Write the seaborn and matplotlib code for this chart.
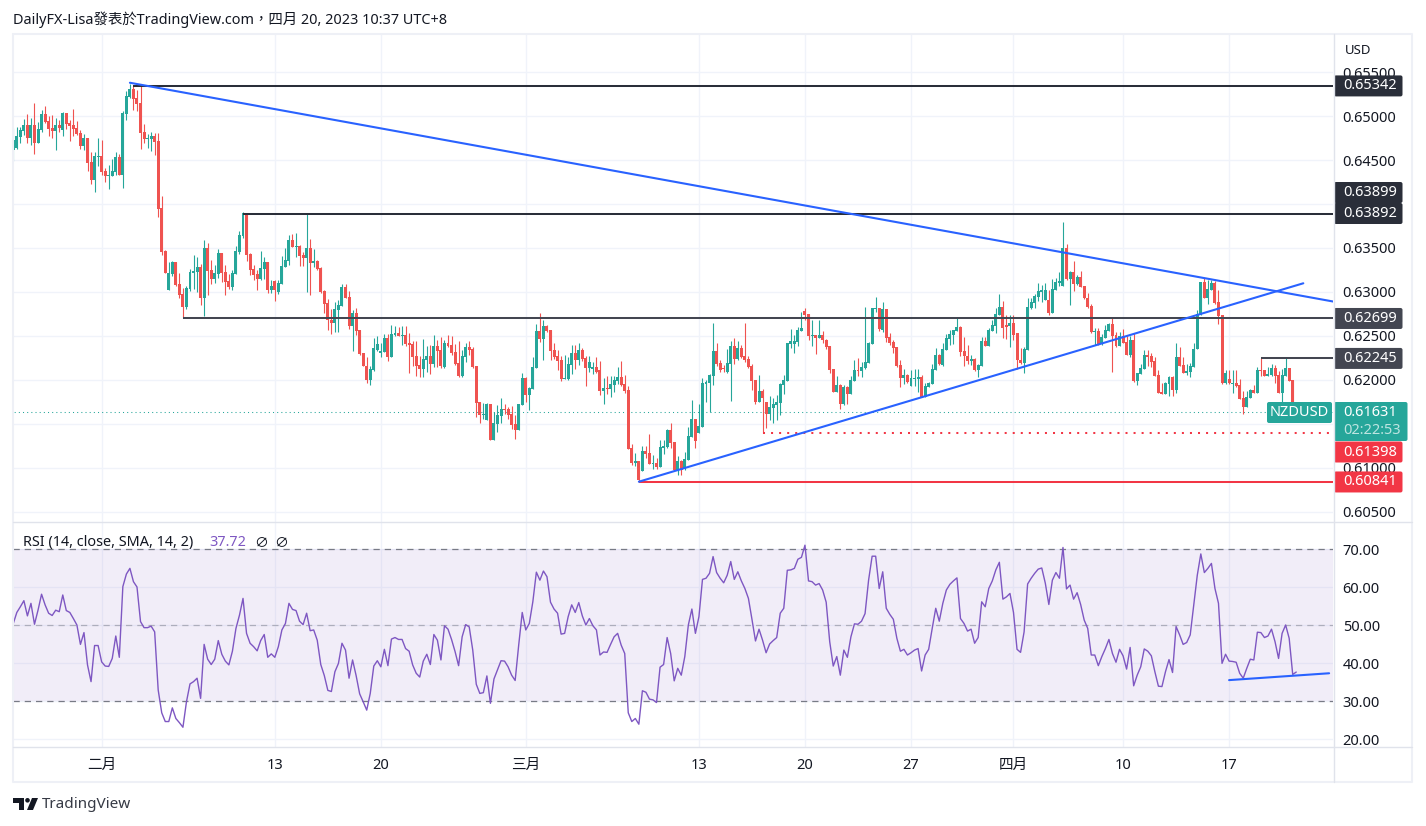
import numpy as np
import pandas as pd
import matplotlib.pyplot as plt
from matplotlib.patches import FancyBboxPatch, Polygon, Circle
import seaborn as sns

# NZDUSD 4h candles, prices in 1/10000
candle_dir = ("GGGGRGRGGR" "RRGRGRRRRR" "GRRGGRRGGG" "RGGGRRRRGG" "RRRRGGRRRG"
              "GGGRGRRGGR" "RRGGGGRRRR" "GGRGRGGGGR" "GRRGRGRRRR" "RGGGRRGRRR"
              "RGGGGGRGGR" "GRRRRRGGRG" "RRGRRRRGGR" "RRRGGRGGGR" "RRRGGRGGGR"
              "GRRRRRGGGR" "GRRGGRRGRG" "GGRRRRGRGR" "RGRGGGRRGR" "GGGRGGGGGR"
              "RRGGRGRRRR" "RGRRGGGGGG" "GGGGRRGRGR" "RRRGRGRGGR" "GGGGGRGRRR"
              "RRGRGGGRGG" "GGRGGGGGRR" "RGRGGRGGGG" "RRGRRRGGGG" "GGGRGGGGRG"
              "RGRRRRGRGG" "GRRGRRGRGG" "GRRRRRGGRG" "RRGGGGGRGG" "RRRGRGRRRG"
              "GRGRRGGRRG" "GRRG")

body_top = [
    6472.7, 6477.2, 6484.0, 6489.7, 6489.7, 6489.7, 6489.7, 6485.2, 6502.2, 6502.2,
    6494.3, 6486.3, 6489.7, 6489.7, 6503.4, 6503.4, 6492.0, 6489.7, 6486.3, 6480.6,
    6475.0, 6475.0, 6447.7, 6454.5, 6454.5, 6454.5, 6437.5, 6432.9, 6437.5, 6453.4,
    6453.4, 6503.4, 6522.7, 6530.6, 6530.6, 6520.4, 6514.7, 6481.8, 6475.0, 6477.2,
    6477.2, 6471.6, 6395.4, 6346.5, 6321.5, 6334.0, 6334.0, 6309.0, 6297.7, 6304.5,
    6322.7, 6323.8, 6328.4, 6328.4, 6350.0, 6350.0, 6325.0, 6321.5, 6344.3, 6344.3,
    6322.7, 6312.5, 6321.5, 6346.5, 6364.7, 6389.7, 6389.7, 6343.1, 6326.1, 6320.4,
    6327.2, 6334.0, 6334.0, 6306.8, 6312.5, 6310.2, 6329.5, 6336.3, 6359.0, 6359.0,
    6352.2, 6352.2, 6342.0, 6350.0, 6350.0, 6335.2, 6335.2, 6327.2, 6301.1, 6287.5,
    6268.6, 6281.1, 6285.6, 6306.1, 6306.1, 6294.3, 6276.5, 6276.5, 6257.2, 6231.1,
    6216.3, 6212.9, 6236.7, 6241.3, 6233.3, 6248.1, 6248.1, 6252.6, 6253.8, 6253.8,
    6251.5, 6251.5, 6242.4, 6241.3, 6227.7, 6217.4, 6224.2, 6227.7, 6227.7, 6239.0,
    6239.0, 6234.5, 6242.4, 6242.4, 6240.1, 6232.2, 6219.7, 6227.7, 6237.9, 6237.9,
    6235.6, 6216.3, 6175.4, 6161.7, 6173.1, 6173.1, 6151.5, 6160.6, 6167.4, 6167.4,
    6167.4, 6161.7, 6150.4, 6173.1, 6202.6, 6202.6, 6191.3, 6215.2, 6256.0, 6256.0,
    6261.7, 6261.7, 6257.2, 6234.5, 6227.7, 6223.1, 6202.6, 6218.6, 6231.1, 6231.1,
    6234.5, 6234.5, 6225.4, 6220.8, 6215.2, 6215.2, 6211.7, 6191.3, 6191.3, 6195.8,
    6200.4, 6203.8, 6203.8, 6195.8, 6189.0, 6123.1, 6108.3, 6108.3, 6119.7, 6119.7,
    6117.4, 6106.1, 6106.1, 6124.2, 6125.4, 6143.5, 6143.2, 6129.5, 6107.9, 6107.9,
    6110.2, 6136.3, 6155.7, 6155.7, 6147.7, 6196.6, 6197.7, 6205.7, 6232.9, 6232.9,
    6219.3, 6213.6, 6219.3, 6238.6, 6238.6, 6236.4, 6236.4, 6227.3, 6223.9, 6215.9,
    6200.0, 6187.5, 6187.5, 6175.0, 6169.3, 6172.7, 6175.0, 6195.5, 6200.0, 6242.0,
    6244.3, 6244.3, 6256.8, 6259.1, 6278.4, 6275.0, 6251.1, 6251.1, 6251.1, 6251.1,
    6245.5, 6238.6, 6212.5, 6194.3, 6194.3, 6192.0, 6192.0, 6200.0, 6211.4, 6211.4,
    6214.8, 6220.5, 6242.0, 6281.8, 6281.8, 6281.8, 6280.7, 6280.7, 6248.9, 6243.2,
    6237.5, 6217.0, 6205.7, 6205.7, 6202.3, 6202.3, 6203.4, 6203.4, 6193.2, 6196.6,
    6212.5, 6228.4, 6228.4, 6235.2, 6247.7, 6252.3, 6256.8, 6260.2, 6260.2, 6232.9,
    6227.3, 6223.9, 6223.9, 6217.0, 6244.3, 6244.3, 6256.8, 6262.5, 6275.0, 6283.0,
    6283.0, 6262.5, 6264.8, 6264.8, 6253.4, 6222.7, 6235.2, 6283.0, 6288.6, 6295.4,
    6301.1, 6302.3, 6302.3, 6290.9, 6303.4, 6311.4, 6312.5, 6350.0, 6350.0, 6322.7,
    6322.7, 6317.0, 6317.0, 6306.8, 6293.2, 6284.1, 6255.7, 6255.7, 6248.9, 6256.8,
    6263.6, 6263.6, 6251.1, 6250.0, 6250.0, 6243.2, 6245.5, 6245.5, 6207.9, 6213.6,
    6228.4, 6228.4, 6227.3, 6221.6, 6205.7, 6186.4, 6196.6, 6203.4, 6203.4, 6226.1,
    6226.1, 6217.0, 6210.2, 6215.9, 6235.2, 6275.0, 6311.4, 6311.4, 6303.4, 6310.2,
    6310.2, 6288.6, 6273.9, 6207.9, 6201.1, 6196.6, 6196.6, 6194.3, 6179.5, 6180.7,
    6188.6, 6188.6, 6211.4, 6211.4, 6211.4, 6206.8, 6213.6, 6213.6, 6205.7, 6205.7,
    6213.6, 6213.6, 6200.0, 6163.1,
]

body_bottom = [
    6461.3, 6463.6, 6476.1, 6482.9, 6475.0, 6475.0, 6469.3, 6469.3, 6484.0, 6493.1,
    6485.2, 6482.9, 6482.9, 6486.3, 6484.0, 6490.9, 6488.6, 6485.2, 6479.5, 6465.9,
    6465.9, 6446.5, 6427.2, 6427.2, 6453.7, 6436.3, 6431.8, 6432.2, 6431.8, 6436.3,
    6432.9, 6432.9, 6502.2, 6521.6, 6519.3, 6513.6, 6480.6, 6473.8, 6474.2, 6473.8,
    6470.4, 6394.3, 6345.4, 6321.5, 6302.2, 6320.4, 6307.9, 6296.5, 6282.9, 6282.9,
    6303.4, 6321.5, 6322.7, 6293.1, 6293.1, 6323.8, 6314.7, 6314.7, 6320.4, 6321.5,
    6311.3, 6305.6, 6305.6, 6320.4, 6345.4, 6363.6, 6342.0, 6325.0, 6319.3, 6314.7,
    6314.7, 6326.1, 6302.2, 6302.2, 6302.2, 6300.0, 6309.0, 6328.4, 6335.2, 6351.1,
    6351.1, 6340.9, 6338.6, 6338.6, 6332.9, 6332.9, 6326.1, 6300.0, 6286.3, 6268.1,
    6265.1, 6265.1, 6279.9, 6284.5, 6293.6, 6261.7, 6261.7, 6256.0, 6229.9, 6216.3,
    6200.4, 6200.4, 6211.7, 6234.5, 6231.1, 6232.2, 6226.5, 6226.5, 6251.5, 6250.4,
    6250.4, 6241.3, 6240.1, 6226.5, 6216.3, 6212.9, 6212.9, 6223.1, 6218.6, 6218.6,
    6233.3, 6216.3, 6215.2, 6239.0, 6231.1, 6218.6, 6204.9, 6204.9, 6226.5, 6234.5,
    6215.2, 6174.2, 6160.6, 6160.6, 6154.9, 6132.2, 6132.2, 6150.4, 6159.5, 6166.3,
    6160.6, 6149.2, 6143.5, 6143.5, 6171.9, 6183.3, 6183.3, 6190.2, 6214.0, 6247.0,
    6247.0, 6256.0, 6233.3, 6226.5, 6222.0, 6201.5, 6201.5, 6201.5, 6217.4, 6223.1,
    6223.1, 6224.2, 6214.0, 6214.0, 6212.9, 6209.5, 6187.9, 6187.9, 6190.2, 6190.2,
    6194.7, 6199.2, 6194.7, 6187.9, 6122.0, 6106.1, 6106.1, 6086.7, 6096.9, 6116.3,
    6104.9, 6104.9, 6101.5, 6101.5, 6123.1, 6124.2, 6128.4, 6097.7, 6097.7, 6097.7,
    6098.9, 6109.1, 6135.2, 6130.7, 6139.8, 6146.6, 6195.5, 6196.6, 6204.5, 6218.2,
    6211.4, 6212.1, 6209.1, 6218.2, 6223.9, 6223.9, 6226.1, 6222.7, 6214.8, 6198.9,
    6175.0, 6175.0, 6179.5, 6161.4, 6161.4, 6168.2, 6171.6, 6173.9, 6194.3, 6198.9,
    6240.9, 6240.9, 6243.2, 6255.7, 6273.9, 6250.0, 6250.0, 6247.7, 6247.7, 6245.5,
    6237.5, 6211.4, 6186.4, 6186.4, 6172.7, 6172.7, 6184.1, 6184.1, 6198.9, 6210.2,
    6210.2, 6213.6, 6219.3, 6240.9, 6280.7, 6258.0, 6256.8, 6247.7, 6242.0, 6236.4,
    6215.9, 6202.3, 6202.3, 6197.7, 6193.2, 6201.1, 6201.1, 6180.7, 6180.7, 6192.0,
    6195.5, 6211.4, 6218.2, 6217.0, 6234.1, 6246.6, 6251.1, 6255.7, 6231.8, 6227.3,
    6221.6, 6221.6, 6211.4, 6211.4, 6215.9, 6238.6, 6238.6, 6255.7, 6261.4, 6273.9,
    6259.1, 6260.2, 6261.4, 6251.1, 6222.7, 6219.3, 6219.3, 6234.1, 6281.8, 6287.5,
    6294.3, 6300.0, 6290.9, 6276.1, 6276.1, 6302.3, 6310.2, 6306.8, 6314.8, 6314.8,
    6309.1, 6309.1, 6305.7, 6293.2, 6283.0, 6254.5, 6254.5, 6240.9, 6240.9, 6247.7,
    6255.7, 6250.0, 6238.6, 6238.6, 6242.0, 6228.4, 6228.4, 6198.9, 6198.9, 6206.8,
    6212.5, 6226.1, 6220.5, 6204.5, 6185.2, 6184.1, 6184.1, 6195.5, 6188.6, 6188.6,
    6215.9, 6207.9, 6207.9, 6209.1, 6214.8, 6235.2, 6273.9, 6293.2, 6293.2, 6302.3,
    6287.5, 6272.7, 6196.6, 6196.6, 6196.6, 6195.5, 6193.2, 6178.4, 6169.3, 6169.3,
    6179.5, 6185.2, 6185.2, 6210.2, 6204.5, 6204.5, 6205.7, 6204.5, 6185.2, 6185.2,
    6204.5, 6198.9, 6161.5, 6161.5,
]

wick_high = [
    6485.9, 6487.8, 6487.8, 6496.6, 6502.2, 6497.7, 6514.7, 6493.1, 6506.8, 6511.3,
    6500.0, 6501.1, 6497.7, 6495.4, 6504.5, 6503.4, 6495.4, 6507.9, 6494.3, 6484.0,
    6479.5, 6475.0, 6459.1, 6459.1, 6475.0, 6472.7, 6440.9, 6444.3, 6451.1, 6459.1,
    6456.8, 6505.6, 6528.4, 6536.3, 6534.1, 6529.5, 6534.1, 6490.9, 6479.5, 6481.8,
    6480.6, 6480.6, 6409.1, 6347.7, 6334.0, 6335.2, 6334.0, 6321.5, 6304.5, 6306.8,
    6326.1, 6342.0, 6339.7, 6331.8, 6359.0, 6355.6, 6336.3, 6330.6, 6348.8, 6344.3,
    6330.6, 6320.4, 6325.0, 6352.2, 6369.3, 6390.9, 6389.7, 6344.3, 6330.6, 6325.0,
    6346.5, 6339.7, 6334.0, 6313.6, 6313.6, 6313.6, 6340.9, 6350.0, 6364.7, 6365.9,
    6367.0, 6353.4, 6345.4, 6389.7, 6360.2, 6348.8, 6336.3, 6328.4, 6302.2, 6292.0,
    6281.1, 6289.0, 6291.3, 6309.5, 6309.0, 6300.8, 6279.9, 6282.2, 6257.2, 6231.1,
    6226.5, 6216.3, 6248.1, 6250.4, 6242.4, 6252.6, 6252.6, 6262.9, 6261.7, 6260.6,
    6261.7, 6261.7, 6253.8, 6244.7, 6244.7, 6227.7, 6247.0, 6239.0, 6240.1, 6251.5,
    6245.8, 6249.2, 6245.8, 6251.5, 6250.4, 6241.3, 6244.7, 6234.5, 6242.4, 6244.7,
    6237.9, 6216.3, 6175.4, 6174.2, 6174.2, 6173.1, 6164.0, 6172.0, 6179.9, 6173.1,
    6169.7, 6170.8, 6160.6, 6173.1, 6208.3, 6203.8, 6192.4, 6226.5, 6264.0, 6276.5,
    6268.6, 6262.9, 6257.2, 6242.4, 6234.5, 6227.7, 6228.8, 6226.5, 6240.1, 6240.1,
    6242.4, 6236.7, 6227.7, 6227.7, 6220.8, 6226.5, 6222.0, 6202.6, 6204.9, 6204.9,
    6204.9, 6215.2, 6222.0, 6206.0, 6193.5, 6127.6, 6117.4, 6108.3, 6125.4, 6125.4,
    6139.0, 6115.1, 6111.7, 6132.2, 6132.2, 6144.7, 6151.1, 6129.5, 6113.6, 6109.1,
    6118.2, 6146.6, 6177.3, 6155.7, 6172.7, 6202.3, 6200.0, 6206.8, 6264.8, 6242.0,
    6222.7, 6217.0, 6235.2, 6244.3, 6247.7, 6244.3, 6239.8, 6264.8, 6227.3, 6218.2,
    6200.0, 6205.7, 6189.8, 6175.0, 6181.8, 6179.5, 6182.9, 6196.6, 6205.7, 6242.0,
    6258.0, 6251.1, 6260.2, 6277.3, 6281.8, 6275.0, 6268.2, 6251.1, 6268.2, 6255.7,
    6246.6, 6238.6, 6212.5, 6204.5, 6195.5, 6194.3, 6193.2, 6204.5, 6222.7, 6225.0,
    6220.5, 6283.0, 6243.2, 6281.8, 6294.3, 6281.8, 6288.6, 6280.7, 6253.4, 6245.5,
    6237.5, 6222.7, 6212.5, 6206.8, 6211.4, 6212.5, 6212.5, 6205.7, 6196.6, 6197.7,
    6218.2, 6236.4, 6229.5, 6242.0, 6252.3, 6256.8, 6256.8, 6271.6, 6261.4, 6248.9,
    6239.8, 6228.4, 6225.0, 6218.2, 6248.9, 6248.9, 6259.1, 6268.2, 6281.8, 6297.7,
    6289.8, 6273.9, 6273.9, 6273.9, 6253.4, 6236.4, 6237.5, 6293.2, 6293.2, 6297.7,
    6310.2, 6307.9, 6310.2, 6302.3, 6314.8, 6315.9, 6322.7, 6379.5, 6354.5, 6323.9,
    6335.2, 6319.3, 6323.9, 6306.8, 6298.9, 6286.4, 6259.1, 6259.1, 6252.3, 6262.5,
    6264.8, 6270.5, 6254.5, 6254.5, 6257.9, 6250.0, 6250.0, 6253.4, 6207.9, 6218.2,
    6234.1, 6234.1, 6230.7, 6226.1, 6211.4, 6196.6, 6197.7, 6204.5, 6204.5, 6242.0,
    6237.5, 6226.1, 6218.2, 6219.3, 6242.0, 6279.5, 6311.4, 6315.9, 6313.6, 6313.6,
    6312.5, 6302.3, 6273.9, 6211.4, 6211.4, 6211.4, 6211.4, 6201.1, 6187.5, 6187.5,
    6189.8, 6194.3, 6214.8, 6225.0, 6211.4, 6214.8, 6218.2, 6217.0, 6210.2, 6212.5,
    6226.1, 6213.6, 6200.0, 6165.0,
]

wick_low = [
    6449.2, 6462.1, 6469.7, 6478.4, 6468.9, 6467.0, 6456.8, 6469.3, 6481.8, 6491.6,
    6477.2, 6475.0, 6461.3, 6481.8, 6477.2, 6485.2, 6471.6, 6477.2, 6478.4, 6462.5,
    6461.3, 6437.5, 6422.7, 6413.6, 6443.1, 6432.9, 6425.0, 6417.0, 6431.8, 6432.9,
    6432.9, 6418.1, 6495.4, 6520.4, 6506.8, 6505.6, 6462.5, 6469.3, 6463.6, 6460.2,
    6455.6, 6385.2, 6342.0, 6321.5, 6302.2, 6318.1, 6306.8, 6293.1, 6270.4, 6280.6,
    6301.1, 6303.4, 6300.0, 6285.2, 6272.7, 6296.5, 6309.0, 6310.2, 6315.9, 6311.3,
    6296.5, 6303.4, 6302.2, 6320.4, 6343.1, 6361.3, 6335.2, 6319.3, 6313.6, 6302.2,
    6313.6, 6314.7, 6298.8, 6298.8, 6289.7, 6297.7, 6309.0, 6328.4, 6330.6, 6351.1,
    6339.7, 6329.5, 6329.5, 6300.0, 6296.5, 6328.4, 6325.0, 6298.8, 6276.1, 6256.8,
    6252.6, 6254.9, 6254.9, 6284.5, 6293.6, 6258.3, 6233.3, 6251.5, 6228.8, 6216.3,
    6197.0, 6194.7, 6210.6, 6233.3, 6226.5, 6232.2, 6222.0, 6226.5, 6250.4, 6250.4,
    6240.1, 6239.0, 6208.3, 6216.3, 6204.9, 6203.8, 6203.8, 6209.5, 6207.2, 6215.2,
    6215.2, 6214.0, 6214.0, 6237.9, 6228.8, 6217.4, 6203.8, 6203.8, 6220.8, 6228.8,
    6214.0, 6158.3, 6151.5, 6156.0, 6154.9, 6132.2, 6132.2, 6141.3, 6151.5, 6161.7,
    6156.0, 6144.7, 6133.3, 6143.5, 6171.9, 6175.4, 6166.3, 6190.2, 6214.0, 6243.5,
    6223.1, 6254.9, 6223.1, 6224.2, 6211.7, 6199.2, 6201.5, 6200.4, 6207.2, 6212.9,
    6217.4, 6222.0, 6193.5, 6209.5, 6207.2, 6208.3, 6183.3, 6173.1, 6184.5, 6181.0,
    6186.7, 6195.8, 6193.5, 6185.6, 6122.0, 6103.8, 6102.6, 6084.5, 6096.9, 6111.7,
    6104.9, 6099.2, 6099.2, 6101.5, 6116.3, 6123.1, 6122.7, 6096.6, 6092.0, 6092.0,
    6097.7, 6109.1, 6135.2, 6122.7, 6139.8, 6146.6, 6175.0, 6163.2, 6194.3, 6215.9,
    6209.1, 6209.1, 6208.0, 6176.1, 6218.2, 6222.7, 6225.0, 6220.5, 6213.6, 6188.6,
    6172.7, 6175.0, 6139.8, 6145.5, 6154.5, 6151.1, 6154.5, 6160.2, 6184.1, 6198.9,
    6236.4, 6230.7, 6238.6, 6255.7, 6268.2, 6245.5, 6238.6, 6229.5, 6247.7, 6242.0,
    6235.2, 6208.0, 6186.4, 6186.4, 6167.0, 6171.6, 6172.7, 6184.1, 6198.9, 6204.5,
    6203.4, 6212.5, 6219.3, 6240.9, 6277.3, 6255.7, 6254.5, 6243.2, 6239.8, 6230.7,
    6214.8, 6192.0, 6195.5, 6196.6, 6193.2, 6193.2, 6186.4, 6180.7, 6180.7, 6192.0,
    6195.5, 6211.4, 6217.0, 6215.9, 6234.1, 6239.8, 6240.9, 6255.7, 6227.3, 6215.9,
    6218.2, 6217.0, 6210.2, 6203.4, 6215.9, 6238.6, 6238.6, 6255.7, 6253.4, 6273.9,
    6247.7, 6246.6, 6237.5, 6245.5, 6212.5, 6218.2, 6207.9, 6234.1, 6280.7, 6281.8,
    6289.8, 6288.6, 6290.9, 6273.9, 6276.1, 6302.3, 6306.8, 6306.8, 6313.6, 6285.2,
    6301.1, 6307.9, 6305.7, 6292.0, 6281.8, 6253.4, 6239.8, 6239.8, 6239.8, 6247.7,
    6255.7, 6209.1, 6237.5, 6238.6, 6242.0, 6228.4, 6226.1, 6197.7, 6194.3, 6206.8,
    6212.5, 6215.9, 6214.8, 6204.5, 6185.2, 6184.1, 6184.1, 6181.8, 6181.8, 6185.2,
    6215.9, 6207.9, 6205.7, 6203.4, 6214.8, 6235.2, 6273.9, 6293.2, 6286.4, 6302.3,
    6286.4, 6263.6, 6195.5, 6195.5, 6195.5, 6185.2, 6192.0, 6178.4, 6161.4, 6169.3,
    6179.5, 6185.2, 6185.2, 6204.5, 6204.5, 6204.5, 6204.5, 6196.6, 6185.2, 6165.0,
    6204.5, 6198.9, 6161.0, 6160.0,
]

rsi_values = [
    50.5, 53.4, 54.9, 56.5, 52.5, 55.8, 50.3, 54.0, 58.2, 55.4,
    53.2, 52.6, 54.0, 53.6, 58.0, 53.9, 53.4, 51.8, 50.1, 45.0,
    48.1, 39.6, 35.2, 44.7, 44.7, 40.4, 39.3, 39.2, 41.3, 47.2,
    41.6, 60.2, 63.5, 65.0, 61.5, 60.1, 51.0, 49.4, 49.4, 49.8,
    48.3, 33.0, 27.0, 24.7, 24.7, 28.3, 25.5, 24.4, 23.2, 29.9,
    34.6, 35.2, 36.1, 30.8, 45.0, 41.1, 39.7, 41.1, 46.0, 42.4,
    40.6, 39.6, 43.2, 49.2, 52.7, 57.1, 47.9, 45.3, 44.4, 43.3,
    46.0, 47.6, 41.6, 42.5, 41.6, 44.4, 48.8, 50.5, 55.8, 54.2,
    53.9, 51.1, 50.2, 53.2, 48.6, 48.8, 46.1, 39.7, 36.8, 32.9,
    32.6, 37.8, 40.0, 45.3, 43.5, 36.1, 40.9, 36.8, 32.0, 29.9,
    27.7, 32.1, 39.3, 40.7, 39.1, 43.7, 39.4, 46.4, 46.8, 46.3,
    46.3, 43.9, 43.2, 39.6, 37.4, 36.4, 40.6, 42.4, 39.7, 47.6,
    46.1, 40.9, 49.9, 49.0, 46.3, 43.1, 39.4, 47.0, 50.2, 49.6,
    43.5, 34.5, 32.1, 32.3, 36.7, 29.5, 35.9, 38.3, 40.7, 40.6,
    39.1, 36.9, 35.5, 44.8, 53.4, 48.8, 50.5, 56.2, 64.0, 61.9,
    64.3, 62.8, 56.1, 54.3, 53.2, 47.7, 47.9, 52.3, 55.4, 53.4,
    56.0, 52.5, 50.1, 51.8, 49.9, 48.8, 42.2, 43.0, 42.9, 45.0,
    47.0, 47.9, 44.8, 42.6, 27.0, 24.7, 25.5, 24.0, 32.8, 32.4,
    30.6, 30.4, 29.7, 39.0, 39.7, 46.8, 42.6, 35.4, 38.7, 36.9,
    41.8, 50.1, 54.3, 47.9, 52.3, 62.1, 62.4, 63.7, 68.1, 63.9,
    62.4, 61.2, 63.2, 66.8, 62.1, 64.1, 61.7, 59.7, 57.1, 51.6,
    45.9, 49.0, 46.1, 42.8, 45.1, 46.0, 46.8, 53.2, 54.5, 64.5,
    64.6, 65.0, 67.4, 67.9, 71.1, 61.7, 61.5, 60.6, 61.0, 59.3,
    56.1, 45.7, 39.3, 41.8, 36.9, 43.5, 41.6, 47.0, 50.4, 50.3,
    51.1, 53.1, 61.9, 68.2, 68.2, 59.7, 64.1, 54.5, 52.9, 51.6,
    46.6, 43.2, 43.7, 42.2, 42.8, 43.5, 43.9, 38.0, 42.2, 43.7,
    49.2, 54.5, 51.1, 55.8, 59.3, 60.8, 61.7, 62.5, 51.8, 50.5,
    48.5, 49.0, 45.3, 46.8, 56.2, 54.9, 59.7, 61.7, 64.6, 66.6,
    56.9, 57.5, 58.4, 53.4, 43.7, 42.9, 48.3, 60.9, 62.4, 63.7,
    64.8, 65.1, 61.1, 55.5, 61.9, 63.9, 62.4, 70.5, 59.6, 60.6,
    56.9, 58.6, 55.5, 51.4, 49.2, 42.2, 42.2, 39.4, 41.8, 43.9,
    46.3, 42.6, 40.3, 43.7, 42.0, 38.5, 44.2, 34.1, 36.9, 39.1,
    43.8, 43.2, 42.0, 37.8, 34.0, 33.9, 37.8, 41.0, 37.6, 49.7,
    47.5, 45.0, 45.5, 47.5, 55.4, 63.2, 68.8, 63.9, 65.0, 66.3,
    59.7, 55.8, 40.0, 42.4, 40.6, 40.5, 40.3, 37.4, 36.1, 38.7,
    41.1, 40.9, 48.2, 48.1, 46.8, 47.2, 49.0, 45.7, 41.3, 47.9,
    50.1, 46.6, 37.1, 37.72,
]

# tick labels
time_ticks = [25, 74, 104, 145, 194, 224, 254, 283, 314, 344]
time_labels = ['二月', '13', '20', '三月', '13', '20', '27', '四月', '10', '17']
price_ticks = [0.655, 0.65, 0.645, 0.64, 0.635, 0.63, 0.625, 0.62, 0.615, 0.61, 0.605]
rsi_ticks = [20, 30, 40, 50, 60, 70]

# drawn levels and trend lines (bar index, price)
levels = [(34, 0.65342, '#2a2e39'), (65, 0.63892, '#2a2e39'), (48, 0.62699, '#434651'),
          (353, 0.62245, '#434651'), (177, 0.60841, '#f23645')]
support_level = (212, 0.61398)
last_price = 0.61631
trend_down = ([33, 373.4], [0.65378, 0.62892])
trend_up = ([177, 365], [0.60844, 0.63099])
trend_rsi = ([344, 372.3], [35.6, 37.4])

UP = '#26a69a'
DOWN = '#ef5350'
BLUE = '#2962ff'
PURPLE = '#7e57c2'
TEXT = '#131722'
W, H = 1426, 826

sns.set_theme(style='white', rc={'axes.facecolor': 'white', 'axes.linewidth': 0})
plt.rcParams['font.family'] = ['Noto Sans', 'Noto Sans CJK TC', 'DejaVu Sans']
plt.rcParams['font.size'] = 10

fig = plt.figure(figsize=(W / 100, H / 100), dpi=100, facecolor='white')


def px_axes(left, top, right, bottom):
    return fig.add_axes([left / W, 1 - bottom / H, (right - left) / W, (bottom - top) / H])


ax = px_axes(13, 34, 1333, 522)
rsi_ax = px_axes(13, 522, 1333, 747)

df = pd.DataFrame({'bar': np.arange(len(body_top)), 'top': body_top, 'bottom': body_bottom,
                   'high': wick_high, 'low': wick_low, 'dir': list(candle_dir), 'rsi': rsi_values})
for col in ['top', 'bottom', 'high', 'low']:
    df[col] = df[col] / 10000
colors = df['dir'].map({'G': UP, 'R': DOWN})

# candles
ax.vlines(df['bar'], df['low'], df['high'], colors=colors, linewidth=0.8, zorder=3)
ax.bar(df['bar'], df['top'] - df['bottom'], bottom=df['bottom'], width=0.84,
       color=colors, linewidth=0, zorder=3)

right_edge = 373.4
for start, price, color in levels:
    ax.plot([start, right_edge], [price, price], color=color, lw=1.45, zorder=4, solid_capstyle='butt')
ax.plot([support_level[0], right_edge], [support_level[1]] * 2, color='#f23645', lw=1.45,
        linestyle=(0, (1, 3)), zorder=4)
ax.plot([-1, right_edge], [last_price, last_price], color=UP, lw=0.75, linestyle=(0, (1, 3)), zorder=2)
ax.plot(*trend_down, color=BLUE, lw=1.5, zorder=5)
ax.plot(*trend_up, color=BLUE, lw=1.5, zorder=5)

ax.set_xlim(-0.08, right_edge)
ax.set_ylim(0.60386, 0.65932)
ax.set_xticks(time_ticks)
ax.set_xticklabels([])
ax.yaxis.tick_right()
ax.set_yticks(price_ticks)
# 0.61500 sits behind the last price tag
ax.set_yticklabels(['' if p == 0.615 else '%.5f' % p for p in price_ticks], color=TEXT, fontsize=10.5)
ax.tick_params(axis='both', length=0, pad=7)
ax.grid(True, color='#f0f3fa', linewidth=1)
ax.set_axisbelow(True)

# RSI panel
rsi_ax.axhspan(30, 70, color=PURPLE, alpha=0.1, linewidth=0, zorder=1)
sns.lineplot(data=df, x='bar', y='rsi', ax=rsi_ax, color=PURPLE, linewidth=1.0, zorder=4)
rsi_ax.axhline(70, color='#787b86', lw=0.9, linestyle=(0, (5, 4)), zorder=3)
rsi_ax.axhline(50, color='#787b86', lw=0.9, linestyle=(0, (5, 4)), alpha=0.5, zorder=3)
rsi_ax.axhline(30, color='#787b86', lw=0.9, linestyle=(0, (5, 4)), zorder=3)
rsi_ax.plot(*trend_rsi, color=BLUE, lw=1.5, zorder=5)

rsi_ax.set_xlim(-0.08, right_edge)
rsi_ax.set_ylim(18.0, 77.2)
rsi_ax.set_xlabel('')
rsi_ax.set_ylabel('')
rsi_ax.set_xticks(time_ticks)
rsi_ax.set_xticklabels(time_labels, color=TEXT, fontsize=10.5)
rsi_ax.yaxis.tick_right()
rsi_ax.set_yticks(rsi_ticks)
rsi_ax.set_yticklabels(['%.2f' % v for v in rsi_ticks], color=TEXT, fontsize=10.5)
rsi_ax.tick_params(axis='y', length=0, pad=7)
rsi_ax.tick_params(axis='x', length=0, pad=8)
rsi_ax.grid(True, color='#f0f3fa', linewidth=1)
rsi_ax.set_axisbelow(True)

# frame, labels and header sit on a pixel overlay
top = fig.add_axes([0, 0, 1, 1], zorder=10)
top.set_xlim(0, W)
top.set_ylim(H, 0)
top.axis('off')
top.patch.set_alpha(0)

top.plot([12.5, 1412, 1412, 12.5, 12.5], [33.5, 33.5, 782, 782, 33.5], color='#eef0f6', lw=1.5)
top.plot([1333.5, 1333.5], [34, 782], color='#e0e3eb', lw=1)
top.plot([13, 1412], [522, 522], color='#e0e3eb', lw=1)
top.plot([13, 1412], [747, 747], color='#e0e3eb', lw=1)


def price_y(price):
    return H - ax.transData.transform((0, price))[1]


def tag(y_mid, text, color, height=21):
    box = FancyBboxPatch((1335, y_mid - height / 2 + 1), 66.5, height - 2,
                         boxstyle='round,pad=1,rounding_size=2', facecolor=color, edgecolor='none')
    top.add_patch(box)
    top.text(1343, y_mid, text, color='white', fontsize=10.5, va='center', ha='left')


tag(price_y(0.65342), '0.65342', '#2a2e39')
tag(price_y(0.63892) - 21, '0.63899', '#2a2e39')
tag(price_y(0.63892), '0.63892', '#2a2e39')
tag(price_y(0.62699), '0.62699', '#434651')
tag(price_y(0.62245), '0.62245', '#434651')
# pushed down below the last price tag
tag(452, '0.61398', '#f23645')
tag(price_y(0.60841), '0.60841', '#f23645')

top.add_patch(FancyBboxPatch((1335, 403), 71.5, 37, boxstyle='round,pad=1,rounding_size=2',
                             facecolor=UP, edgecolor='none'))
top.text(1343, price_y(last_price), '%.5f' % last_price, color='white', fontsize=10.5, va='center')
top.text(1343, 431, '02:22:53', color='white', alpha=0.7, fontsize=10.5, va='center')
top.add_patch(FancyBboxPatch((1268, 403), 63, 19, boxstyle='round,pad=1,rounding_size=2',
                             facecolor=UP, edgecolor='none'))
top.text(1299.5, 413, 'NZDUSD', color='white', fontsize=10.5, va='center', ha='center')

top.text(1345, 51, 'USD', color=TEXT, fontsize=9.5, va='center')
top.text(13, 20, 'DailyFX-Lisa發表於TradingView.com，四月 20, 2023 10:37 UTC+8',
         color=TEXT, fontsize=10.4, va='center')

# RSI legend
top.text(23, 542.5, 'RSI (14, close, SMA, 14, 2)', color=TEXT, fontsize=10.4, va='center')
top.text(209, 542.5, '37.72', color=PURPLE, fontsize=10.4, va='center')
top.text(254, 542.5, '∅', color=TEXT, fontsize=10, va='center')
top.text(274, 542.5, '∅', color=TEXT, fontsize=10, va='center')

# TradingView logo
top.add_patch(Polygon([(13, 798), (24, 798), (24, 810), (19, 810), (19, 802.5), (13, 802.5)],
                      facecolor=TEXT, edgecolor='none'))
top.add_patch(Circle((27.5, 800.3), 2.3, facecolor=TEXT, edgecolor='none'))
top.add_patch(Polygon([(32, 798), (38, 798), (33, 810), (27, 810)], facecolor=TEXT, edgecolor='none'))
top.text(42, 805, 'TradingView', color='#363a45', fontsize=11, va='center')

plt.savefig('out.png', dpi=100)
